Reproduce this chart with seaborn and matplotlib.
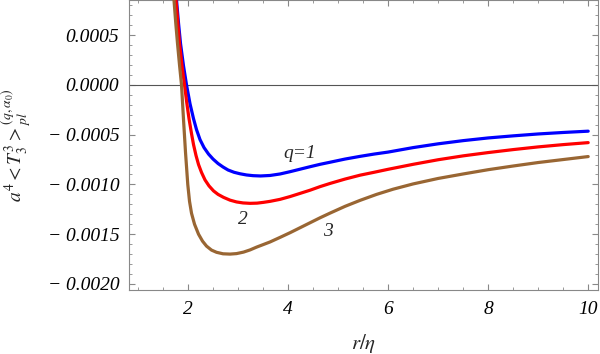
import numpy as np
import pandas as pd
import matplotlib
matplotlib.use("Agg")
import matplotlib.pyplot as plt
import seaborn as sns
from matplotlib.ticker import MultipleLocator, FixedLocator

# values (y in units of 1e-4)
r_q1 = [1.72, 1.77, 1.81, 1.85, 1.91, 1.97, 2.04, 2.11, 2.17, 2.24, 2.32, 2.41,
        2.5, 2.6, 2.7, 2.8, 2.92, 3.04, 3.17, 3.3, 3.45, 3.64, 3.84, 4.04, 4.24,
        4.44, 4.64, 4.84, 5.14, 5.44, 5.72, 6.0, 6.5, 7.0, 7.5, 8.0, 8.5, 9.0,
        9.5, 10.0]
t_q1 = [11.2, 8.5, 6.2, 4.15, 1.9, 0.0, -1.9, -3.4, -4.5, -5.5, -6.3, -6.95,
        -7.45, -7.9, -8.25, -8.55, -8.78, -8.93, -9.05, -9.12, -9.15, -9.1, -8.95,
        -8.72, -8.47, -8.22, -7.98, -7.77, -7.45, -7.18, -6.95, -6.75, -6.3, -5.92,
        -5.6, -5.33, -5.12, -4.93, -4.78, -4.65]

r_q2 = [1.71, 1.76, 1.83, 1.88, 1.93, 1.975, 2.02, 2.07, 2.11, 2.16, 2.21, 2.27,
        2.34, 2.42, 2.51, 2.6, 2.71, 2.84, 2.97, 3.1, 3.24, 3.38, 3.51, 3.64, 3.84,
        4.04, 4.24, 4.44, 4.64, 4.84, 5.14, 5.44, 5.72, 6.0, 6.5, 7.0, 7.5, 8.0,
        8.5, 9.0, 9.5, 10.0]
t_q2 = [11.4, 8.5, 4.15, 1.9, 0.0, -1.8, -3.4, -4.9, -6.0, -7.1, -8.0, -8.8,
        -9.55, -10.15, -10.65, -11.0, -11.3, -11.58, -11.76, -11.86, -11.9, -11.88,
        -11.8, -11.7, -11.5, -11.22, -10.9, -10.58, -10.22, -9.9, -9.46, -9.07,
        -8.78, -8.48, -7.98, -7.52, -7.13, -6.8, -6.5, -6.23, -6.0, -5.8]

r_q3 = [1.68, 1.72, 1.755, 1.79, 1.83, 1.87, 1.91, 1.95, 1.995, 2.03, 2.07, 2.13,
        2.21, 2.29, 2.37, 2.47, 2.57, 2.7, 2.84, 2.97, 3.11, 3.24, 3.37, 3.5, 3.64,
        3.84, 4.04, 4.24, 4.44, 4.64, 4.84, 5.14, 5.44, 5.77, 6.1, 6.5, 7.0, 7.5,
        8.0, 8.5, 9.0, 9.5, 10.0]
t_q3 = [11.0, 8.5, 6.2, 4.15, 2.0, 0.0, -3.5, -6.8, -10.0, -11.7, -12.9, -14.0,
        -15.0, -15.7, -16.2, -16.6, -16.82, -16.97, -17.0, -16.95, -16.8, -16.58,
        -16.3, -16.05, -15.78, -15.32, -14.85, -14.35, -13.85, -13.35, -12.88,
        -12.2, -11.6, -11.0, -10.48, -9.95, -9.4, -8.95, -8.52, -8.15, -7.8, -7.5,
        -7.2]

q_values = ["1", "2", "3"]
colors = {"1": "#0000ff", "2": "#ff0000", "3": "#996633"}
curve_labels = {"1": (4.24, -0.00069, "q=1"), "2": (3.1, -0.00135, "2"),
                "3": (4.8, -0.00147, "3")}

y_ticks = [-0.0020, -0.0015, -0.0010, -0.0005, 0.0000, 0.0005]
y_tick_labels = ["\u2212 0.0020", "\u2212 0.0015", "\u2212 0.0010", "\u2212 0.0005",
                 "0.0000", "0.0005"]
x_ticks = [2, 4, 6, 8, 10]

frames = []
for q, r, t in zip(q_values, [r_q1, r_q2, r_q3], [t_q1, t_q2, t_q3]):
    frames.append(pd.DataFrame({"r": r, "T": np.array(t) * 1e-4, "q": q}))
df = pd.concat(frames, ignore_index=True)

sns.set_theme(style="ticks")
plt.rcParams["font.family"] = ["Liberation Serif", "DejaVu Serif"]
plt.rcParams["mathtext.fontset"] = "stix"

fig = plt.figure(figsize=(6, 3.54), dpi=100)
ax = fig.add_axes([0.215, 0.181, 0.782, 0.819])

ax.axhline(0, color="#555555", lw=0.8, zorder=1)
sns.lineplot(data=df, x="r", y="T", hue="q", palette=colors, sort=False,
             estimator=None, lw=2.3, legend=False, ax=ax, zorder=3)
for line in ax.get_lines():
    line.set_solid_joinstyle("round")

for q in q_values:
    x, y, s = curve_labels[q]
    ax.text(x, y, s, fontsize=14, style="italic", ha="center", va="center")

ax.set_xlim(0.82, 10.2)
ax.set_ylim(-0.00206, 0.000853)

ax.xaxis.set_major_locator(FixedLocator(x_ticks))
ax.xaxis.set_minor_locator(MultipleLocator(0.5))
ax.set_xticklabels([str(v) for v in x_ticks], style="italic", fontsize=14)
ax.yaxis.set_major_locator(FixedLocator(y_ticks))
ax.yaxis.set_minor_locator(MultipleLocator(0.0001))
ax.set_yticklabels(y_tick_labels, style="italic", fontsize=14)

ax.tick_params(which="both", direction="in", top=True, right=True,
               color="#888888", labelcolor="black")
ax.tick_params(which="major", length=4, width=0.8)
ax.tick_params(which="minor", length=2, width=0.6)
ax.tick_params(axis="y", pad=7)
ax.tick_params(axis="x", pad=8)

for sp in ax.spines.values():
    sp.set_color("#888888")
    sp.set_linewidth(0.8)

ax.set_xlabel(r"$r/\eta$", fontsize=15, labelpad=10)
ax.set_ylabel(r"$a^4 < T_3^3 >_{pl}^{(q,\alpha_0)}$", fontsize=14)
ax.yaxis.set_label_coords(-0.205, 0.5)

fig.savefig("out.png", dpi=100)
